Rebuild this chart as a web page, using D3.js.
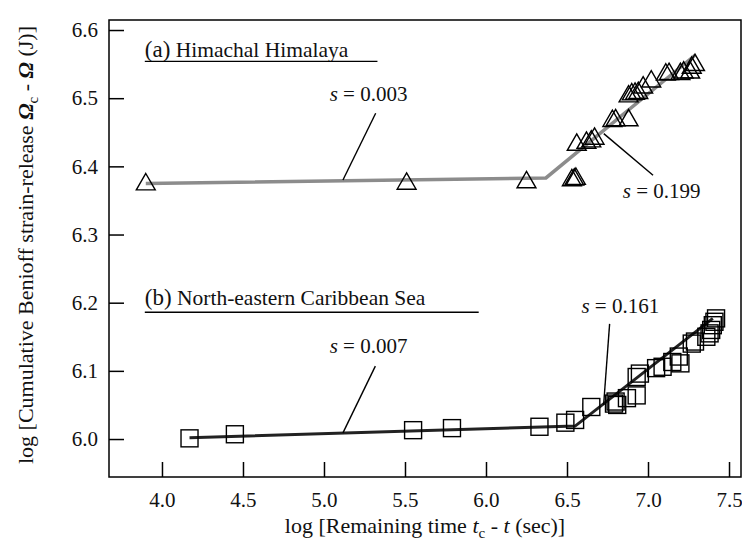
<!DOCTYPE html>
<html>
<head>
<meta charset="utf-8">
<script src="https://cdn.jsdelivr.net/npm/d3@7"></script>
<style>
  body { margin: 0; background: #fff; }
  svg text { font-family: "Liberation Serif", "Times New Roman", Times, serif; }
</style>
</head>
<body>
<svg width="742" height="540"></svg>
<script>
// --- data ---
var xTicks = [4.0, 4.5, 5.0, 5.5, 6.0, 6.5, 7.0, 7.5];
var yTicks = [6.0, 6.1, 6.2, 6.3, 6.4, 6.5, 6.6];

// (a) Himachal Himalaya (triangles)
var himX = [3.90, 5.51, 6.25, 6.53, 6.545, 6.555, 6.56, 6.62, 6.65, 6.67, 6.78, 6.80, 6.88,
            6.88, 6.90, 6.92, 6.94, 6.97, 7.02, 7.11, 7.13, 7.20, 7.22, 7.26, 7.27, 7.29];
var himY = [6.375, 6.376, 6.378, 6.381, 6.382, 6.383, 6.433, 6.436, 6.438, 6.442, 6.468, 6.469, 6.469,
            6.504, 6.507, 6.508, 6.509, 6.517, 6.526, 6.536, 6.537, 6.537, 6.539, 6.539, 6.546, 6.550];
var himFitX = [3.90, 6.37, 7.29];
var himFitY = [6.375, 6.383, 6.563];

// (b) North-eastern Caribbean Sea (squares)
var carX = [4.17, 4.45, 5.55, 5.79, 6.33, 6.49, 6.55, 6.65, 6.79, 6.80, 6.81, 6.87, 6.93, 6.93,
            6.95, 7.05, 7.09, 7.15, 7.19, 7.20, 7.27, 7.29, 7.36, 7.38, 7.39, 7.40, 7.41, 7.42];
var carY = [6.001, 6.007, 6.013, 6.016, 6.018, 6.024, 6.028, 6.047, 6.052, 6.055, 6.050, 6.060, 6.064, 6.091,
            6.096, 6.104, 6.106, 6.113, 6.121, 6.111, 6.140, 6.143, 6.150, 6.155, 6.160, 6.167, 6.172, 6.177];
var carFitX = [4.17, 6.55, 7.40];
var carFitY = [6.002, 6.019, 6.177];

// slope annotations: value, text x/y, leader from -> to
var slopeVals = ["0.003", "0.199", "0.007", "0.161"];
var slopeTextX = [5.035, 6.844, 5.035, 6.589];
var slopeTextY = [6.496, 6.353, 6.126, 6.185];
var leaderX1 = [5.319, 7.031, 5.317, 6.763];
var leaderY1 = [6.478, 6.387, 6.107, 6.169];
var leaderX2 = [5.117, 6.727, 5.117, 6.726];
var leaderY2 = [6.380, 6.448, 6.009, 6.050];

var panelTitles = [["(a)", "Himachal Himalaya"], ["(b)", "North-eastern Caribbean Sea"]];
var titleY = [6.560, 6.196];
var underlineY = [6.554, 6.186];
var underlineEnd = [5.330, 5.955];

// --- layout ---
// (don't call it "top": window.top is read-only)
var svg = d3.select("svg");
var pL = 109, pR = 741, pT = 20, pB = 477;

var x = d3.scaleLinear().domain([3.673, 7.574]).range([pL, pR]);
var y = d3.scaleLinear().domain([5.9443, 6.6147]).range([pB, pT]);

// frame
svg.append("rect")
    .attr("x", pL).attr("y", pT)
    .attr("width", pR - pL).attr("height", pB - pT)
    .attr("fill", "none").attr("stroke", "#000").attr("stroke-width", 1.5);

// axes, ticks point inward
var xa = svg.append("g")
    .attr("transform", "translate(0," + pB + ")")
    .call(d3.axisBottom(x).tickValues(xTicks).tickSize(-15).tickPadding(15)
        .tickFormat(d3.format(".1f")));
var ya = svg.append("g")
    .attr("transform", "translate(" + pL + ",0)")
    .call(d3.axisLeft(y).tickValues(yTicks).tickSize(-15).tickPadding(11)
        .tickFormat(d3.format(".1f")));
[xa, ya].forEach(function(a) {
    a.select(".domain").remove();
    a.selectAll(".tick line").attr("stroke", "#000").attr("stroke-width", 1.5);
    a.selectAll(".tick text")
        .attr("fill", "#111")
        .style("font-family", "'Liberation Serif', 'Times New Roman', serif")
        .style("font-size", "21px");
});

// fitted lines
var line = d3.line().x(function(d) { return x(d[0]); }).y(function(d) { return y(d[1]); });
svg.append("path")
    .datum(d3.zip(himFitX, himFitY))
    .attr("d", line)
    .attr("fill", "none").attr("stroke", "#8c8c8c").attr("stroke-width", 3.5);
svg.append("path")
    .datum(d3.zip(carFitX, carFitY))
    .attr("d", line)
    .attr("fill", "none").attr("stroke", "#222").attr("stroke-width", 3);

// markers
var tri = d3.symbol().type(d3.symbolTriangle).size(155);
svg.append("g").selectAll("path")
    .data(d3.zip(himX, himY))
    .join("path")
    .attr("d", tri)
    .attr("transform", function(d) { return "translate(" + x(d[0]) + "," + (y(d[1]) + 1) + ")"; })
    .attr("fill", "none").attr("stroke", "#000").attr("stroke-width", 1.4);

var sq = 17;
svg.append("g").selectAll("rect")
    .data(d3.zip(carX, carY))
    .join("rect")
    .attr("x", function(d) { return x(d[0]) - sq / 2; })
    .attr("y", function(d) { return y(d[1]) - sq / 2; })
    .attr("width", sq).attr("height", sq)
    .attr("fill", "none").attr("stroke", "#000").attr("stroke-width", 1.4);

// leaders + slope labels
slopeVals.forEach(function(v, i) {
    svg.append("line")
        .attr("x1", x(leaderX1[i])).attr("y1", y(leaderY1[i]))
        .attr("x2", x(leaderX2[i])).attr("y2", y(leaderY2[i]))
        .attr("stroke", "#000").attr("stroke-width", 1.4);
    var t = svg.append("text")
        .attr("x", x(slopeTextX[i])).attr("y", y(slopeTextY[i]))
        .attr("font-size", 21).attr("fill", "#111");
    t.append("tspan").attr("font-style", "italic").text("s");
    t.append("tspan").text(" = " + v);
});

// panel titles with underline
panelTitles.forEach(function(p, i) {
    var t = svg.append("text")
        .attr("x", x(3.894)).attr("y", y(titleY[i]))
        .attr("font-size", 21.5).attr("fill", "#111");
    t.append("tspan").attr("font-size", 23).text(p[0]);
    t.append("tspan").text(" " + p[1]);
    svg.append("line")
        .attr("x1", x(3.894)).attr("x2", x(underlineEnd[i]))
        .attr("y1", y(underlineY[i])).attr("y2", y(underlineY[i]))
        .attr("stroke", "#000").attr("stroke-width", 1.4);
});

// axis titles
var xl = svg.append("text")
    .attr("x", (pL + pR) / 2).attr("y", 533)
    .attr("text-anchor", "middle").attr("font-size", 22).attr("fill", "#111");
xl.append("tspan").text("log [Remaining time ");
xl.append("tspan").attr("font-style", "italic").text("t");
xl.append("tspan").attr("font-size", 15).attr("dy", 5).text("c");
xl.append("tspan").attr("dy", -5).text(" - ");
xl.append("tspan").attr("font-style", "italic").text("t");
xl.append("tspan").text(" (sec)]");

var yl = svg.append("text")
    .attr("transform", "translate(33,245) rotate(-90)")
    .attr("text-anchor", "middle").attr("font-size", 22).attr("fill", "#111");
yl.append("tspan").text("log [Cumulative Benioff strain-release ");
yl.append("tspan").attr("font-style", "italic").attr("font-weight", "bold").text("Ω");
yl.append("tspan").attr("font-size", 15).attr("dy", 5).text("c");
yl.append("tspan").attr("dy", -5).text(" - ");
yl.append("tspan").attr("font-style", "italic").attr("font-weight", "bold").text("Ω");
yl.append("tspan").text(" (J)]");
</script>
</body>
</html>
